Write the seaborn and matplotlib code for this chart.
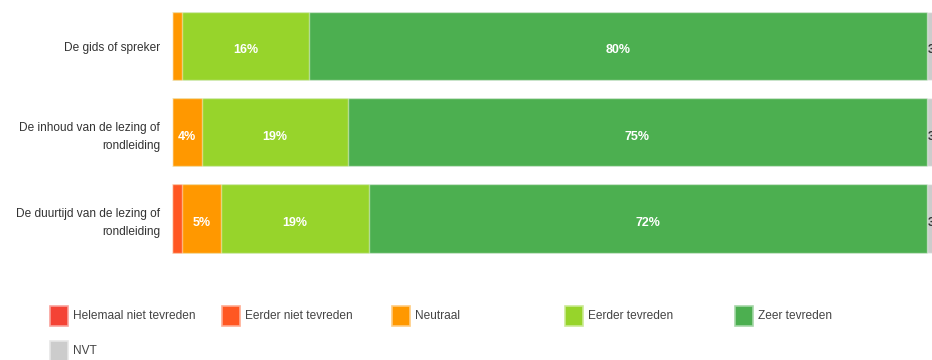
import matplotlib
matplotlib.use("Agg")
import matplotlib.pyplot as plt
from matplotlib.patches import Rectangle
import numpy as np
import pandas as pd
import seaborn as sns

# Survey questions (y categories) and answer levels (stack order)
vragen = [
    "De gids of spreker",
    "De inhoud van de lezing of\nrondleiding",
    "De duurtijd van de lezing of\nrondleiding",
]
antwoorden = [
    "Helemaal niet tevreden",
    "Eerder niet tevreden",
    "Neutraal",
    "Eerder tevreden",
    "Zeer tevreden",
    "NVT",
]
kleuren = ["#F44336", "#FF5722", "#FF9800", "#97D42B", "#4CAF50", "#CCCCCC"]

# Share of respondents (%) per answer, one value per question
helemaal_niet = [0.0, 0.0, 0.0]
eerder_niet = [0.0, 0.0, 1.3]
neutraal = [1.3, 3.9, 5.0]
eerder_tevreden = [16.4, 18.8, 19.1]
zeer_tevreden = [79.7, 74.7, 72.0]
nvt = [2.6, 2.6, 2.6]

reeksen = [helemaal_niet, eerder_niet, neutraal, eerder_tevreden, zeer_tevreden, nvt]

sns.set_theme(style="white")
plt.rcParams["font.family"] = ["Liberation Sans", "DejaVu Sans"]

W, H = 932, 360
fig = plt.figure(figsize=(W / 100, H / 100), dpi=100)
ax = fig.add_axes([172 / W, 1 - 261.6 / H, 775 / W, (261.6 - 2.9) / H])

waarden = np.array(reeksen)          # shape: answers x questions
cum = np.cumsum(waarden, axis=0)     # right edge of every segment
links = cum - waarden                # left edge of every segment

# Stacked bars: draw the cumulative totals from the outermost level inward
for i in range(len(antwoorden) - 1, -1, -1):
    df = pd.DataFrame({"vraag": vragen, "totaal": cum[i]})
    sns.barplot(
        data=df, x="totaal", y="vraag", orient="h", color=kleuren[i],
        saturation=1, width=0.794, edgecolor=(1, 1, 1, 0.45), linewidth=1.0,
        ax=ax,
    )

# Percentage labels in each wide-enough segment
for i, naam in enumerate(antwoorden):
    for j in range(len(vragen)):
        v = waarden[i, j]
        if v < 2.5:
            continue
        kleur = "#333333" if naam == "NVT" else "white"
        ax.text(links[i, j] + v / 2, j + 0.05, f"{round(v)}%", ha="center",
                va="center", color=kleur, fontsize=9, fontweight="bold",
                clip_on=False)

ax.set_xlim(0, 100)
ax.set_ylim(2.5, -0.5)
ax.set_xlabel("")
ax.set_ylabel("")
ax.set_xticks([])
ax.tick_params(axis="y", length=0, pad=8.6, labelsize=8.6, labelcolor="#333333")
for lbl in ax.get_yticklabels():
    lbl.set_horizontalalignment("right")
    lbl.set_linespacing(1.7)
for s in ax.spines.values():
    s.set_visible(False)

# Legend drawn as coloured squares with text in figure pixels
posities = [(50, 316), (222, 316), (392, 316), (565, 316), (735, 316), (50, 351)]
for (px, py), naam, kleur in zip(posities, antwoorden, kleuren):
    rand = tuple(np.clip(np.array(matplotlib.colors.to_rgb(kleur)) * 0.5 + 0.5, 0, 1))
    fig.add_artist(Rectangle((px / W, 1 - (py + 10) / H), 18 / W, 20 / H,
                             transform=fig.transFigure, facecolor=kleur,
                             edgecolor=rand, linewidth=1.2))
    fig.text((px + 23) / W, 1 - py / H, naam, ha="left", va="center",
             fontsize=8.6, color="#444444")

fig.savefig("out.png", dpi=100)
